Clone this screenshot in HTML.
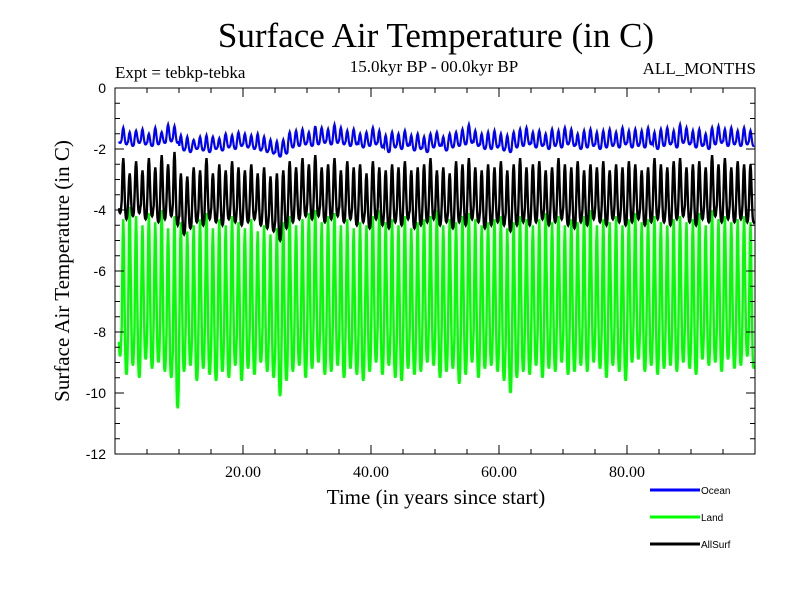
<!DOCTYPE html>
<html><head><meta charset="utf-8"><style>
body{margin:0;background:#fff;}
svg{display:block;}
.serif{font-family:"Liberation Serif",serif;}
.sans{font-family:"Liberation Sans",sans-serif;}
</style></head><body>
<svg id="chart" width="800" height="600" viewBox="0 0 800 600">
<text class="serif" x="436" y="47" font-size="35" text-anchor="middle">Surface Air Temperature (in C)</text>
<text class="serif" x="115" y="78" font-size="17">Expt = tebkp-tebka</text>
<text class="serif" x="434" y="72" font-size="17" text-anchor="middle">15.0kyr BP - 00.0kyr BP</text>
<text class="serif" x="756" y="74" font-size="17" text-anchor="end">ALL_MONTHS</text>
<text class="serif" x="436" y="504" font-size="21" text-anchor="middle">Time (in years since start)</text>
<text class="serif" x="0" y="0" font-size="21" text-anchor="middle" transform="translate(69,271) rotate(-90)">Surface Air Temperature (in C)</text>
<g id="plot"></g>
<g id="axes"></g>
<g id="legend"></g>
</svg>
<script>
const years = Array.from({length:100},(_,i)=>i);
const oceanMax=[-1.35,-1.3,-1.45,-1.4,-1.35,-1.5,-1.3,-1.45,-1.2,-1.25,-1.55,-1.6,-1.7,-1.6,-1.55,-1.6,-1.65,-1.5,-1.55,-1.45,-1.5,-1.55,-1.5,-1.6,-1.7,-1.75,-1.7,-1.45,-1.4,-1.35,-1.45,-1.25,-1.3,-1.35,-1.2,-1.3,-1.4,-1.35,-1.5,-1.45,-1.3,-1.4,-1.55,-1.45,-1.5,-1.4,-1.55,-1.5,-1.6,-1.5,-1.45,-1.6,-1.5,-1.45,-1.35,-1.2,-1.4,-1.5,-1.45,-1.4,-1.5,-1.55,-1.45,-1.35,-1.3,-1.45,-1.4,-1.5,-1.35,-1.4,-1.3,-1.35,-1.5,-1.4,-1.35,-1.45,-1.4,-1.35,-1.45,-1.3,-1.4,-1.35,-1.4,-1.3,-1.45,-1.35,-1.3,-1.4,-1.2,-1.3,-1.4,-1.35,-1.5,-1.3,-1.25,-1.35,-1.3,-1.4,-1.3,-1.4];
const oceanMin=[-1.8,-1.85,-1.9,-1.8,-1.85,-1.9,-1.85,-1.8,-1.75,-1.8,-2.05,-2.1,-2.0,-2.05,-2.1,-2.0,-2.05,-1.95,-2.0,-1.9,-1.95,-2.0,-2.05,-2.1,-2.15,-2.25,-2.15,-1.95,-1.9,-1.85,-1.9,-1.85,-1.8,-1.85,-1.8,-1.85,-1.9,-1.85,-1.95,-1.9,-1.85,-1.95,-2.1,-1.95,-2.0,-1.9,-2.05,-2.0,-2.1,-1.95,-1.9,-2.05,-1.95,-1.9,-1.85,-1.8,-1.9,-2.0,-2.0,-1.95,-2.05,-2.1,-1.95,-1.9,-1.85,-1.95,-1.9,-2.0,-1.9,-1.95,-1.85,-1.9,-2.0,-1.95,-1.9,-2.0,-1.95,-1.9,-1.95,-1.85,-1.95,-1.9,-1.95,-1.85,-2.0,-1.9,-1.85,-1.95,-1.8,-1.85,-1.95,-1.9,-2.0,-1.85,-1.8,-1.9,-1.85,-1.9,-1.85,-1.9];
const allMax=[-2.5,-2.3,-2.8,-2.4,-2.7,-2.3,-2.6,-2.2,-2.5,-2.1,-2.8,-2.9,-2.6,-2.7,-2.3,-2.8,-2.5,-2.7,-2.4,-2.6,-2.7,-2.5,-2.8,-2.6,-2.9,-2.8,-2.7,-2.4,-2.6,-2.3,-2.5,-2.2,-2.6,-2.5,-2.3,-2.7,-2.4,-2.6,-2.5,-2.8,-2.4,-2.6,-2.7,-2.5,-2.6,-2.4,-2.7,-2.6,-2.5,-2.3,-2.7,-2.6,-2.8,-2.4,-2.5,-2.3,-2.6,-2.7,-2.5,-2.6,-2.4,-2.7,-2.5,-2.3,-2.6,-2.5,-2.4,-2.7,-2.6,-2.3,-2.5,-2.6,-2.4,-2.7,-2.5,-2.6,-2.4,-2.7,-2.5,-2.6,-2.4,-2.5,-2.7,-2.6,-2.3,-2.5,-2.6,-2.4,-2.3,-2.6,-2.5,-2.4,-2.6,-2.2,-2.5,-2.3,-2.6,-2.4,-2.5,-2.5];
const allMin=[-4.1,-4.3,-4.2,-4.1,-4.3,-4.2,-4.4,-4.3,-4.2,-4.5,-4.8,-4.6,-4.4,-4.5,-4.3,-4.4,-4.5,-4.3,-4.4,-4.5,-4.4,-4.3,-4.5,-4.6,-4.7,-5.0,-4.6,-4.4,-4.3,-4.2,-4.3,-4.2,-4.4,-4.3,-4.2,-4.4,-4.3,-4.5,-4.4,-4.6,-4.3,-4.5,-4.6,-4.4,-4.5,-4.3,-4.6,-4.5,-4.4,-4.3,-4.5,-4.4,-4.6,-4.4,-4.5,-4.3,-4.4,-4.6,-4.5,-4.4,-4.5,-4.7,-4.5,-4.4,-4.5,-4.4,-4.3,-4.5,-4.4,-4.3,-4.5,-4.6,-4.4,-4.5,-4.3,-4.4,-4.5,-4.3,-4.4,-4.5,-4.4,-4.3,-4.5,-4.4,-4.3,-4.4,-4.5,-4.3,-4.2,-4.4,-4.5,-4.3,-4.4,-4.2,-4.4,-4.3,-4.4,-4.3,-4.4,-4.4];
const landMax=[-4.0,-4.3,-3.9,-4.2,-4.5,-4.1,-4.4,-4.0,-4.6,-4.2,-4.4,-4.7,-4.5,-4.3,-4.1,-4.6,-4.3,-4.5,-4.2,-4.4,-4.6,-4.3,-4.7,-4.5,-4.8,-4.6,-4.4,-4.2,-4.5,-4.3,-4.1,-4.0,-4.4,-4.2,-4.1,-4.5,-4.3,-4.6,-4.4,-4.5,-4.2,-4.0,-4.4,-4.3,-4.5,-4.2,-4.6,-4.4,-4.3,-4.2,-4.0,-4.5,-4.3,-4.4,-4.2,-4.1,-4.3,-4.5,-4.4,-4.3,-4.2,-4.6,-4.4,-4.2,-4.3,-4.5,-4.3,-4.1,-4.4,-4.2,-4.5,-4.3,-4.4,-4.2,-4.0,-4.5,-4.3,-4.4,-4.2,-4.5,-4.3,-4.1,-4.4,-4.3,-4.2,-4.4,-4.5,-4.3,-4.2,-4.4,-4.3,-4.1,-4.5,-4.0,-4.3,-4.2,-4.4,-4.3,-4.2,-4.4];
const landMin=[-8.8,-9.4,-9.1,-9.5,-8.9,-9.2,-9.0,-9.3,-9.5,-10.5,-9.3,-9.1,-9.6,-9.2,-9.4,-9.6,-9.3,-9.5,-9.1,-9.6,-9.2,-9.4,-9.0,-9.3,-9.5,-10.1,-9.6,-9.3,-9.1,-9.5,-9.2,-9.0,-9.4,-9.3,-9.1,-9.5,-9.2,-9.4,-9.6,-9.3,-9.0,-9.4,-9.1,-9.5,-9.6,-9.2,-9.4,-9.3,-9.0,-9.1,-9.5,-9.3,-9.2,-9.7,-9.4,-9.0,-9.5,-9.2,-9.1,-9.3,-9.6,-10.0,-9.5,-9.3,-9.4,-9.1,-9.5,-9.2,-9.3,-9.0,-9.4,-9.3,-9.1,-9.3,-9.0,-9.2,-9.5,-9.1,-9.3,-9.6,-9.0,-8.9,-9.3,-9.1,-9.4,-9.2,-9.1,-9.3,-9.0,-9.2,-9.4,-8.9,-9.1,-9.0,-9.3,-8.9,-9.2,-9.1,-8.8,-9.2];
const yTicks=[0,-2,-4,-6,-8,-10,-12];
const xTickVals=[20,40,60,80];
const xTickLabels=["20.00","40.00","60.00","80.00"];
const legendNames=["Ocean","Land","AllSurf"];
const legendColors=["#0000ff","#00ff00","#000000"];

const X0=115,X1=755,Y0=88,Y1=454;
const xs=v=>X0+(v/100)*(X1-X0);
const ys=v=>Y0+(0-v)/12*(Y1-Y0);
const NS="http://www.w3.org/2000/svg";
function mk(tag,attrs,parent){const e=document.createElementNS(NS,tag);for(const k in attrs)e.setAttribute(k,attrs[k]);parent.appendChild(e);return e;}
const plot=document.getElementById('plot'),axes=document.getElementById('axes'),legend=document.getElementById('legend');

// normalized seasonal shape in [-1,1]
const raw=[];for(let m=0;m<12;m++){const ph=2*Math.PI*(m-3)/12;raw.push(Math.cos(ph)+0.2*Math.cos(2*ph));}
const rmax=Math.max(...raw),rmin=Math.min(...raw);
const shape=raw.map(v=>2*(v-rmin)/(rmax-rmin)-1);

function series(maxA,minA,color,name,w){
  let pts=[];
  years.forEach((y,i)=>{
    const mid=(maxA[i]+minA[i])/2, amp=(maxA[i]-minA[i])/2;
    for(let m=0;m<12;m++) pts.push([y+m/12+1/24,mid+amp*shape[m]]);
  });
  const p=mk('polyline',{points:pts.filter(q=>q[0]>=0.6&&q[0]<=99.9).map(q=>xs(q[0]).toFixed(1)+','+ys(q[1]).toFixed(1)).join(' '),fill:'none',stroke:color,'stroke-width':w,'stroke-linejoin':'miter'},plot);
  
  
}
series(landMax,landMin,'#00ff00','land-line',2.4);
series(allMax,allMin,'#000000','allsurf-line',2.4);
series(oceanMax,oceanMin,'#0000ff','ocean-line',2.2);

const frame=mk('rect',{x:X0,y:Y0,width:X1-X0,height:Y1-Y0,fill:'none',stroke:'#000','stroke-width':1},axes);


for(let v=0;v>=-12;v-=0.5){
  const major=Math.abs(v%2)<1e-9, L=major?9:5;
  mk('line',{x1:X0,x2:X0+L,y1:ys(v),y2:ys(v),stroke:'#000'},axes);
  mk('line',{x1:X1,x2:X1-L,y1:ys(v),y2:ys(v),stroke:'#000'},axes);
}
yTicks.forEach(v=>{
  const t=mk('text',{x:X0-9,y:ys(v)+5,'font-size':14,'text-anchor':'end','class':'sans'},axes);
  t.textContent=String(v);
  
  
});
for(let v=5;v<100;v+=5){
  const major=v%20===0, L=major?9:5;
  mk('line',{x1:xs(v),x2:xs(v),y1:Y1,y2:Y1-L,stroke:'#000'},axes);
  mk('line',{x1:xs(v),x2:xs(v),y1:Y0,y2:Y0+L,stroke:'#000'},axes);
}
xTickVals.forEach((v,i)=>{
  const t=mk('text',{x:xs(v),y:Y1+23,'font-size':16,'text-anchor':'middle','class':'serif'},axes);
  t.textContent=xTickLabels[i];
  
  
});
legendNames.forEach((n,i)=>{
  const y=490+i*27;
  const l=mk('line',{x1:650,x2:700,y1:y,y2:y,stroke:legendColors[i],'stroke-width':3},legend);
  
  
  const t=mk('text',{x:701,y:y+4,'font-size':10,'class':'sans'},legend);
  t.textContent=n;
  
  
});
</script>
</body></html>
